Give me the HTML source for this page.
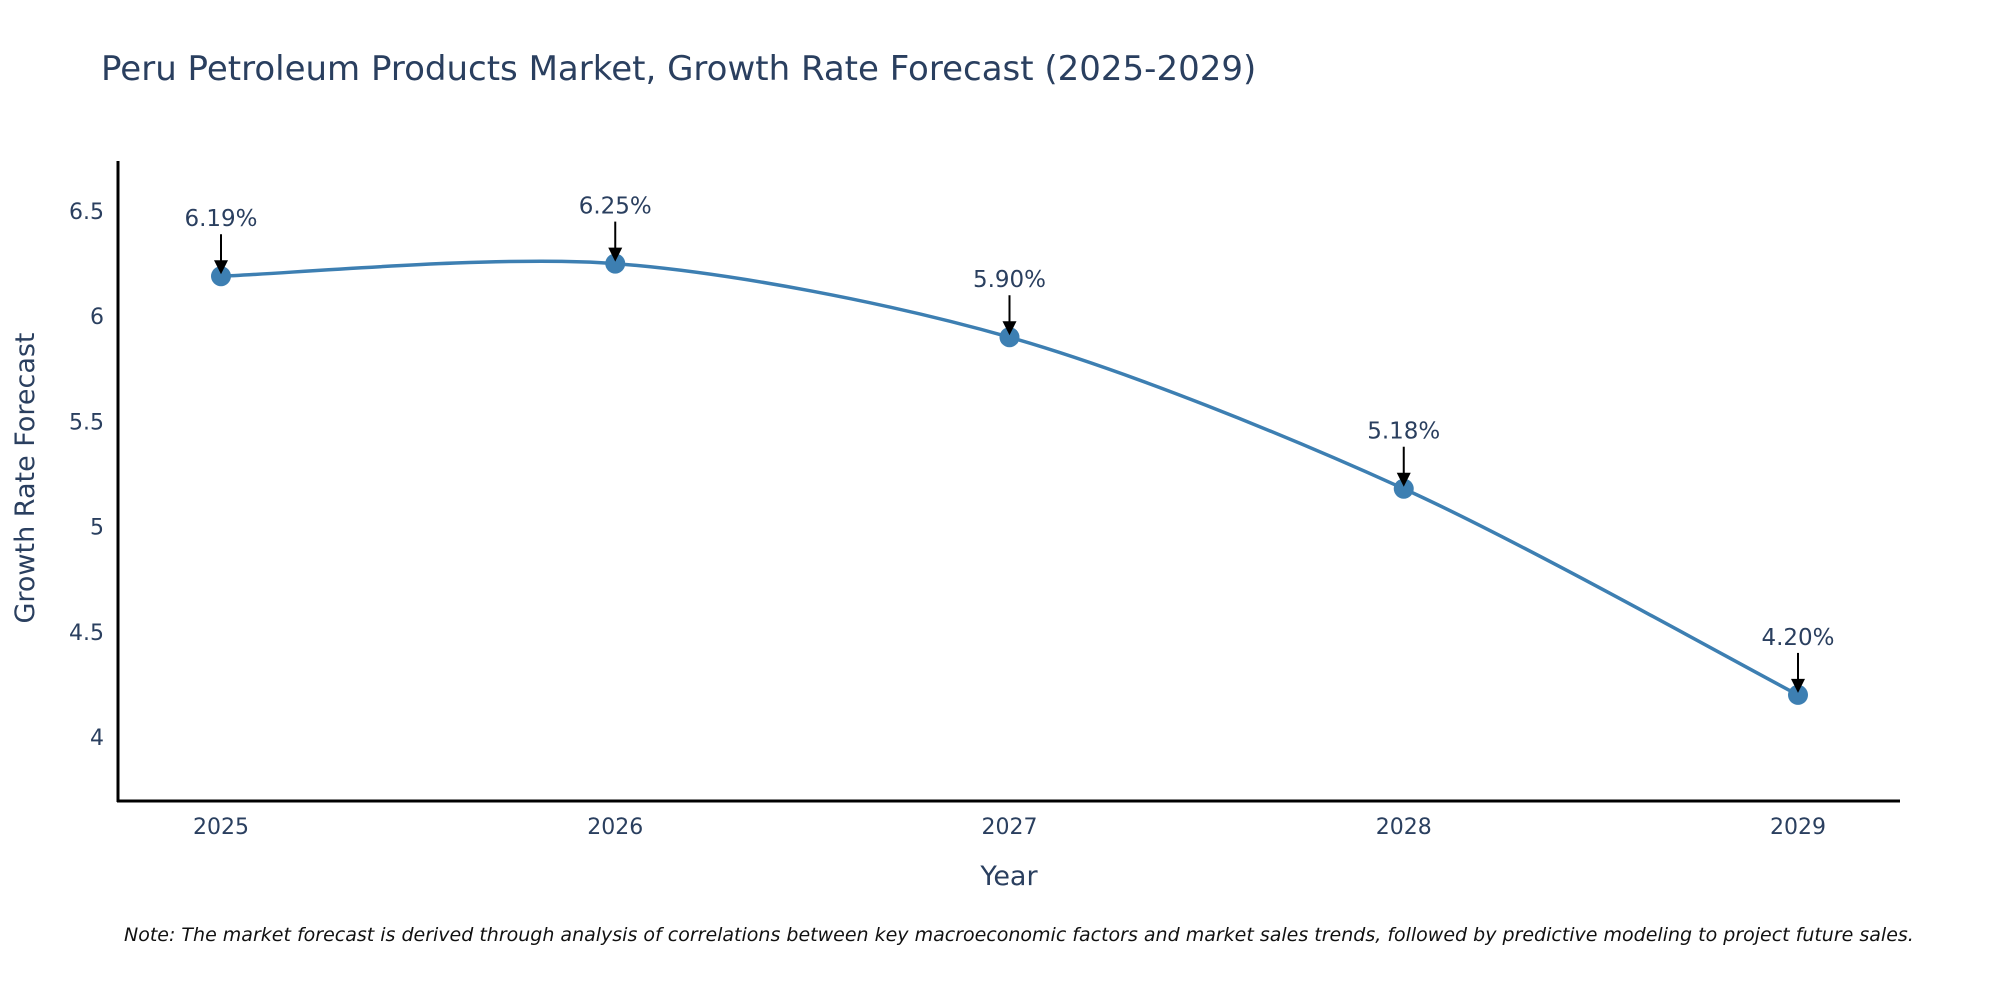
<!DOCTYPE html>
<html><head><meta charset="utf-8"><style>
body{margin:0;background:#fff;}
svg text{font-family:"DejaVu Sans","Liberation Sans",sans-serif;fill:#2a3f5f;}
</style></head><body>
<svg id="chart" width="2000" height="1000" xmlns="http://www.w3.org/2000/svg">
<text x="101" y="80" font-size="34">Peru Petroleum Products Market, Growth Rate Forecast (2025-2029)</text>
<g id="yticks"></g><g id="xticks"></g>
<line x1="118" y1="161" x2="118" y2="802" stroke="#000" stroke-width="3"/>
<line x1="117" y1="801" x2="1900" y2="801" stroke="#000" stroke-width="3"/>
<text transform="translate(34,478) rotate(-90)" text-anchor="middle" font-size="27">Growth Rate Forecast</text>
<text x="1009" y="885" text-anchor="middle" font-size="27">Year</text>
<path id="line" fill="none" stroke="#3d7fb2" stroke-width="3.5"/>
<g id="marks"></g>
<text x="124" y="941" font-size="19" font-style="italic" style="fill:#111">Note: The market forecast is derived through analysis of correlations between key macroeconomic factors and market sales trends, followed by predictive modeling to project future sales.</text>
</svg>
<script>
const years = ["2025","2026","2027","2028","2029"];
const values = [6.19, 6.25, 5.90, 5.18, 4.20];
const labels = ["6.19%","6.25%","5.90%","5.18%","4.20%"];
const yTicks = [4, 4.5, 5, 5.5, 6, 6.5];
const yTickLabels = ["4","4.5","5","5.5","6","6.5"];

const NS="http://www.w3.org/2000/svg";
function xs(i){return 221+i*(1798-221)/(years.length-1);}
function ys(v){return 737-(v-4)*(737-211)/2.5;}
function mk(tag,attrs,parent){const e=document.createElementNS(NS,tag);for(const k in attrs)e.setAttribute(k,attrs[k]);parent.appendChild(e);return e;}
const yg=document.getElementById('yticks'),xg=document.getElementById('xticks'),mg=document.getElementById('marks');
yTicks.forEach((t,i)=>{const e=mk('text',{x:104,y:ys(t)+8,'text-anchor':'end','font-size':'22'},yg);e.textContent=yTickLabels[i];

});
years.forEach((y,i)=>{const e=mk('text',{x:xs(i),y:834,'text-anchor':'middle','font-size':'22'},xg);e.textContent=y;

});
const P=values.map((v,i)=>[xs(i),ys(v)]);
let d='M'+P[0][0]+','+P[0][1];
for(let i=0;i<P.length-1;i++){const p0=P[i-1]||P[i],p1=P[i],p2=P[i+1],p3=P[i+2]||P[i+1];const t=0.15;
d+=' C'+(p1[0]+(p2[0]-p0[0])*t)+','+(p1[1]+(p2[1]-p0[1])*t)+' '+(p2[0]-(p3[0]-p1[0])*t)+','+(p2[1]-(p3[1]-p1[1])*t)+' '+p2[0]+','+p2[1];}
document.getElementById('line').setAttribute('d',d);
P.forEach((p,i)=>{
const c=mk('circle',{cx:p[0],cy:p[1],r:10,fill:'#3d7fb2'},mg);


const l=mk('line',{x1:p[0],y1:p[1]-42,x2:p[0],y2:p[1]-14,stroke:'#000','stroke-width':2},mg);


const h=mk('polygon',{points:(p[0]-7)+','+(p[1]-16)+' '+(p[0]+7)+','+(p[1]-16)+' '+p[0]+','+(p[1]-2),fill:'#000'},mg);


const t=mk('text',{x:p[0],y:p[1]-50,'text-anchor':'middle','font-size':'23'},mg);t.textContent=labels[i];


});
</script>
</body></html>
